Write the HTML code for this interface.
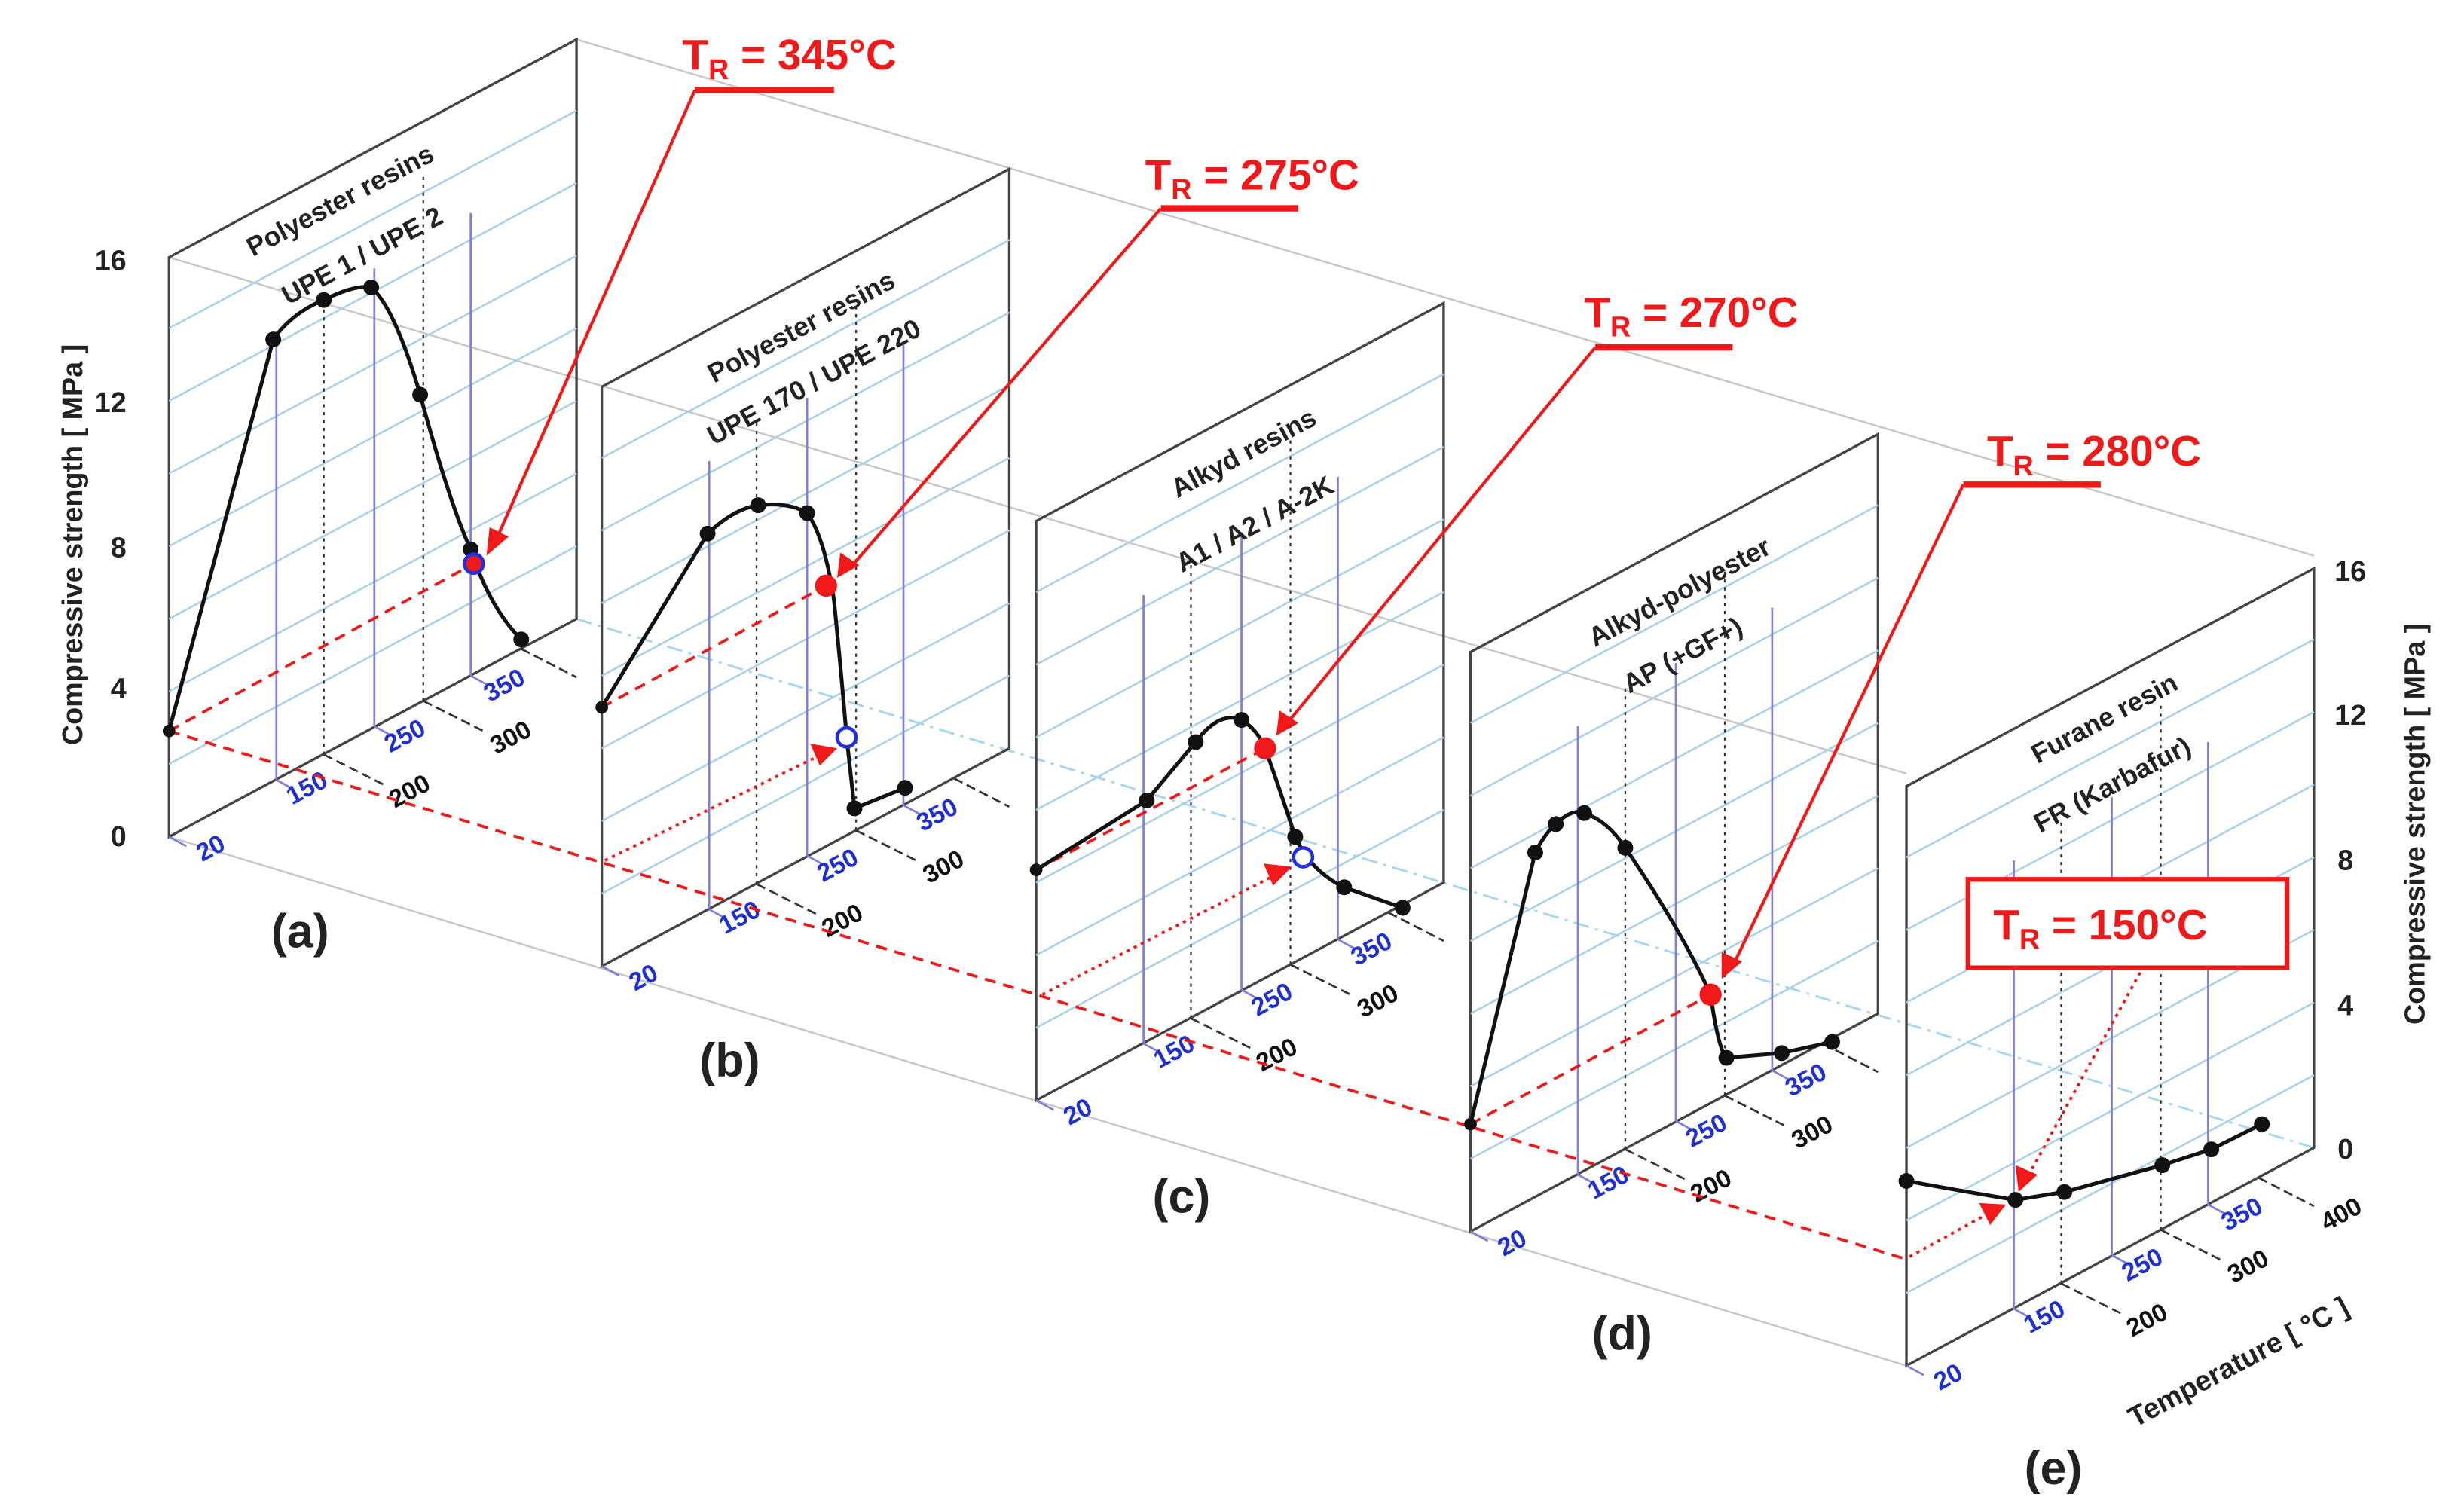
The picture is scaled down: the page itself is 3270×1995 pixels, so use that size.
<!DOCTYPE html>
<html><head><meta charset="utf-8"><style>
html,body{margin:0;padding:0;background:#fff}
svg{display:block}
text{font-family:"Liberation Sans",sans-serif}
</style></head><body>
<svg width="3270" height="1995" viewBox="0 0 1560 952" preserveAspectRatio="none" xmlns="http://www.w3.org/2000/svg">
<defs>
<g id="pl">
  <polygon points="107,163 365,25 365,392 107,530" fill="none" stroke="#444" stroke-width="1.6"/>
  <g stroke="#a9d0e6" stroke-width="1.2">
    <line x1="107" y1="484" x2="365" y2="346"/>
    <line x1="107" y1="438" x2="365" y2="300"/>
    <line x1="107" y1="392" x2="365" y2="254"/>
    <line x1="107" y1="346" x2="365" y2="208"/>
    <line x1="107" y1="300" x2="365" y2="162"/>
    <line x1="107" y1="254" x2="365" y2="116"/>
    <line x1="107" y1="208" x2="365" y2="70"/>
  </g>
  <g stroke="#8080d8" stroke-width="1.3">
    <line x1="175" y1="494" x2="175" y2="210"/>
    <line x1="237" y1="460" x2="237" y2="170"/>
    <line x1="298" y1="428" x2="298" y2="135"/>
    <line x1="175" y1="494" x2="186" y2="500"/>
    <line x1="237" y1="460" x2="248" y2="466"/>
    <line x1="298" y1="428" x2="309" y2="434"/>
    <line x1="107" y1="530" x2="118" y2="536"/>
  </g>
  <g stroke="#333" stroke-width="1.1" stroke-dasharray="2,3">
    <line x1="205" y1="478" x2="205" y2="185"/>
    <line x1="268" y1="444" x2="268" y2="110"/>
  </g>
  <g stroke="#333" stroke-width="1.3" stroke-dasharray="6,3">
    <line x1="205" y1="478" x2="245" y2="498"/>
    <line x1="268" y1="444" x2="308" y2="464"/>
    <line x1="330" y1="411" x2="365" y2="429"/>
  </g>
</g>
</defs>
<rect width="1560" height="952" fill="#fff"/>
<g stroke="#c8c8c8" stroke-width="1.2" fill="none">
  <line x1="107" y1="163" x2="1207" y2="490"/>
  <line x1="365" y1="25" x2="1465" y2="352"/>
  <line x1="107" y1="530" x2="1207" y2="865"/>
</g>
<line x1="365" y1="392" x2="1465" y2="727" stroke="#a9d6ef" stroke-width="1.4" stroke-dasharray="10,4,2,4"/>

<use href="#pl"/>
<use href="#pl" transform="translate(274,82)"/>
<use href="#pl" transform="translate(549,167)"/>
<use href="#pl" transform="translate(824,250)"/>
<use href="#pl" transform="translate(1100,335)"/>

<g font-size="16" font-weight="bold">
<g>
<text x="128" y="546" fill="#2030d0" transform="rotate(-28 128 546)">20</text>
<text x="185" y="510" fill="#2030d0" transform="rotate(-28 185 510)">150</text>
<text x="247" y="477" fill="#2030d0" transform="rotate(-28 247 477)">250</text>
<text x="310" y="445" fill="#2030d0" transform="rotate(-28 310 445)">350</text>
<text x="250" y="512" fill="#111" transform="rotate(-28 250 512)">200</text>
<text x="314" y="478" fill="#111" transform="rotate(-28 314 478)">300</text>
</g>
<g transform="translate(274,82)">
<text x="128" y="546" fill="#2030d0" transform="rotate(-28 128 546)">20</text>
<text x="185" y="510" fill="#2030d0" transform="rotate(-28 185 510)">150</text>
<text x="247" y="477" fill="#2030d0" transform="rotate(-28 247 477)">250</text>
<text x="310" y="445" fill="#2030d0" transform="rotate(-28 310 445)">350</text>
<text x="250" y="512" fill="#111" transform="rotate(-28 250 512)">200</text>
<text x="314" y="478" fill="#111" transform="rotate(-28 314 478)">300</text>
</g>
<g transform="translate(549,167)">
<text x="128" y="546" fill="#2030d0" transform="rotate(-28 128 546)">20</text>
<text x="185" y="510" fill="#2030d0" transform="rotate(-28 185 510)">150</text>
<text x="247" y="477" fill="#2030d0" transform="rotate(-28 247 477)">250</text>
<text x="310" y="445" fill="#2030d0" transform="rotate(-28 310 445)">350</text>
<text x="250" y="512" fill="#111" transform="rotate(-28 250 512)">200</text>
<text x="314" y="478" fill="#111" transform="rotate(-28 314 478)">300</text>
</g>
<g transform="translate(824,250)">
<text x="128" y="546" fill="#2030d0" transform="rotate(-28 128 546)">20</text>
<text x="185" y="510" fill="#2030d0" transform="rotate(-28 185 510)">150</text>
<text x="247" y="477" fill="#2030d0" transform="rotate(-28 247 477)">250</text>
<text x="310" y="445" fill="#2030d0" transform="rotate(-28 310 445)">350</text>
<text x="250" y="512" fill="#111" transform="rotate(-28 250 512)">200</text>
<text x="314" y="478" fill="#111" transform="rotate(-28 314 478)">300</text>
</g>
<g transform="translate(1100,335)">
<text x="128" y="546" fill="#2030d0" transform="rotate(-28 128 546)">20</text>
<text x="185" y="510" fill="#2030d0" transform="rotate(-28 185 510)">150</text>
<text x="247" y="477" fill="#2030d0" transform="rotate(-28 247 477)">250</text>
<text x="310" y="445" fill="#2030d0" transform="rotate(-28 310 445)">350</text>
<text x="250" y="512" fill="#111" transform="rotate(-28 250 512)">200</text>
<text x="314" y="478" fill="#111" transform="rotate(-28 314 478)">300</text>
<text x="373" y="445" fill="#111" transform="rotate(-28 373 445)">400</text>
</g>
</g>

<g font-size="17" font-weight="bold" fill="#222" text-anchor="middle">
<text x="218" y="132" transform="rotate(-28 218 132)">Polyester resins</text>
<text x="232" y="167" transform="rotate(-28 232 167)">UPE 1 / UPE 2</text>
<text x="510" y="212" transform="rotate(-28 510 212)">Polyester resins</text>
<text x="518" y="247" transform="rotate(-28 518 247)">UPE 170 / UPE 220</text>
<text x="790" y="292" transform="rotate(-28 790 292)">Alkyd resins</text>
<text x="797" y="337" transform="rotate(-28 797 337)">A1 / A2 / A-2K</text>
<text x="1066" y="380" transform="rotate(-28 1066 380)">Alkyd-polyester</text>
<text x="1068" y="420" transform="rotate(-28 1068 420)">AP (+GF+)</text>
<text x="1335" y="460" transform="rotate(-28 1335 460)">Furane resin</text>
<text x="1340" y="502" transform="rotate(-28 1340 502)">FR (Karbafur)</text>
</g>

<g font-size="18" font-weight="bold" fill="#222">
<text x="80" y="171" text-anchor="end">16</text>
<text x="80" y="261" text-anchor="end">12</text>
<text x="80" y="353" text-anchor="end">8</text>
<text x="80" y="442" text-anchor="end">4</text>
<text x="80" y="536" text-anchor="end">0</text>
<text x="1478" y="368">16</text>
<text x="1478" y="459">12</text>
<text x="1480" y="551">8</text>
<text x="1480" y="643">4</text>
<text x="1480" y="734">0</text>
<text x="52" y="345" text-anchor="middle" transform="rotate(-90 52 345)">Compressive strength [ MPa ]</text>
<text x="1535" y="522" text-anchor="middle" transform="rotate(-90 1535 522)">Compressive strength [ MPa ]</text>
<text x="1420" y="868" text-anchor="middle" transform="rotate(-28 1420 868)">Temperature [ °C ]</text>
</g>
<g font-size="30" font-weight="bold" fill="#222" text-anchor="middle">
<text x="190" y="600">(a)</text>
<text x="462" y="682">(b)</text>
<text x="748" y="768">(c)</text>
<text x="1027" y="855">(d)</text>
<text x="1300" y="940">(e)</text>
</g>

<g stroke="#f01818" stroke-width="1.8" fill="none" stroke-dasharray="7,5">
<line x1="107" y1="463" x2="1205" y2="797"/>
<line x1="107" y1="463" x2="300" y2="357"/>
<line x1="381" y1="448" x2="523" y2="371"/>
<line x1="656" y1="551" x2="801" y2="474"/>
<line x1="931" y1="712" x2="1083" y2="630"/>
</g>
<g stroke="#f01818" stroke-width="1.8" fill="none" stroke-dasharray="2,3">
<line x1="383" y1="545" x2="520" y2="478"/>
<line x1="660" y1="630" x2="806" y2="555"/>
<line x1="1209" y1="796" x2="1260" y2="768"/>
<line x1="1355" y1="616" x2="1284" y2="745"/>
</g>
<g fill="#f01818">
<polygon points="530,474 513,471 519,485"/>
<polygon points="818,549 800,547 806,561"/>
<polygon points="1270,763 1253,762 1260,776"/>
<polygon points="1278,755 1276,738 1290,744"/>
</g>

<g stroke="#111" stroke-width="2.4" fill="none" stroke-linejoin="round">
<path d="M107,463 L173,215 Q185,198 205,190 Q225,180 235,182 Q250,195 266,250 Q285,320 298,348 Q310,385 330,405"/>
<path d="M381,448 L448,338 Q465,322 480,320 Q500,318 511,325 Q522,340 528,380 Q533,430 536,467 L541,512 L573,499"/>
<path d="M656,551 L726,507 L757,470 Q772,450 786,456 Q796,462 801,474 Q812,505 820,530 Q830,552 851,562 L888,575"/>
<path d="M931,712 L972,540 Q978,528 985,522 Q995,512 1003,515 Q1018,520 1029,537 Q1065,590 1083,630 Q1088,665 1093,670 L1128,667 L1160,660"/>
<path d="M1207,748 Q1245,755 1276,760 L1307,755 L1369,738 L1400,728 L1432,712"/>
</g>
<g fill="#111">
<circle cx="107" cy="463" r="4"/><circle cx="173" cy="215" r="5"/><circle cx="205" cy="190" r="5"/><circle cx="235" cy="182" r="5"/><circle cx="266" cy="250" r="5"/><circle cx="298" cy="348" r="5"/><circle cx="330" cy="405" r="5"/>
<circle cx="381" cy="448" r="4"/><circle cx="448" cy="338" r="5"/><circle cx="480" cy="320" r="5"/><circle cx="511" cy="325" r="5"/><circle cx="541" cy="512" r="5"/><circle cx="573" cy="499" r="5"/>
<circle cx="656" cy="551" r="4"/><circle cx="726" cy="507" r="5"/><circle cx="757" cy="470" r="5"/><circle cx="786" cy="456" r="5"/><circle cx="820" cy="530" r="5"/><circle cx="851" cy="562" r="5"/><circle cx="888" cy="575" r="5"/>
<circle cx="931" cy="712" r="4"/><circle cx="972" cy="540" r="5"/><circle cx="985" cy="522" r="5"/><circle cx="1003" cy="515" r="5"/><circle cx="1029" cy="537" r="5"/><circle cx="1093" cy="670" r="5"/><circle cx="1128" cy="667" r="5"/><circle cx="1160" cy="660" r="5"/>
<circle cx="1207" cy="748" r="5"/><circle cx="1276" cy="760" r="5"/><circle cx="1307" cy="755" r="5"/><circle cx="1369" cy="738" r="5"/><circle cx="1400" cy="728" r="5"/><circle cx="1432" cy="712" r="5"/>
</g>
<circle cx="300" cy="357" r="6" fill="#f01818" stroke="#2030e0" stroke-width="2.2"/>
<circle cx="523" cy="371" r="7" fill="#f01818"/>
<circle cx="536" cy="467" r="6" fill="#fff" stroke="#2030e0" stroke-width="2.2"/>
<circle cx="801" cy="474" r="7" fill="#f01818"/>
<circle cx="825" cy="543" r="6" fill="#fff" stroke="#2030e0" stroke-width="2.2"/>
<circle cx="1083" cy="630" r="7" fill="#f01818"/>

<g stroke="#f01818" stroke-width="2" fill="none">
<line x1="440" y1="57" x2="315" y2="340"/>
<line x1="735" y1="132" x2="538" y2="360"/>
<line x1="1010" y1="220" x2="815" y2="458"/>
<line x1="1243" y1="307" x2="1097" y2="612"/>
</g>
<g stroke="#f01818" stroke-width="4">
<line x1="440" y1="57" x2="528" y2="57"/>
<line x1="735" y1="132" x2="822" y2="132"/>
<line x1="1010" y1="220" x2="1097" y2="220"/>
<line x1="1243" y1="307" x2="1330" y2="307"/>
</g>
<g fill="#f01818">
<polygon points="308,352 310,334 322,340"/>
<polygon points="530,366 532,350 544,358"/>
<polygon points="808,466 810,450 822,458"/>
<polygon points="1090,620 1090,603 1103,609"/>
</g>
<rect x="1246" y="557" width="202" height="56" fill="#fff" stroke="#f01818" stroke-width="3"/>
<g font-size="27" font-weight="bold" fill="#f01818">
<text x="432" y="44">T<tspan font-size="18" dy="6">R</tspan><tspan dy="-6"> = 345°C</tspan></text>
<text x="725" y="120">T<tspan font-size="18" dy="6">R</tspan><tspan dy="-6"> = 275°C</tspan></text>
<text x="1003" y="207">T<tspan font-size="18" dy="6">R</tspan><tspan dy="-6"> = 270°C</tspan></text>
<text x="1258" y="295">T<tspan font-size="18" dy="6">R</tspan><tspan dy="-6"> = 280°C</tspan></text>
<text x="1262" y="595">T<tspan font-size="18" dy="6">R</tspan><tspan dy="-6"> = 150°C</tspan></text>
</g>
</svg>
</body></html>
